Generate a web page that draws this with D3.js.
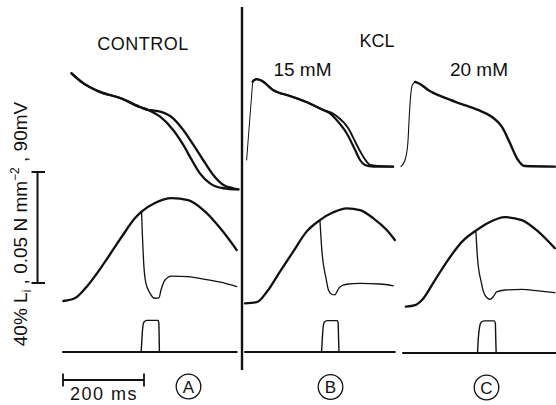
<!DOCTYPE html>
<html>
<head>
<meta charset="utf-8">
<script src="https://cdn.jsdelivr.net/npm/d3@7/dist/d3.min.js"></script>
<style>
  html, body { margin: 0; padding: 0; background: #fff; }
  svg { display: block; }
  text { font-family: "Liberation Sans", Arial, Helvetica, sans-serif; fill: #111; }
</style>
</head>
<body>
<svg id="chart" width="556" height="405"></svg>
<script>
// ---------------- DATA (time in ms, membrane potential in mV, force in mN/mm², length in % Li) ----------------
const panels = ["A", "B", "C"];
const panelTitles = ["CONTROL", "15 mM", "20 mM"];
const groupTitle = "KCL";
const calibrationLabel = ["40% L", "i", " , 0.05 N mm", "−2", " , 90mV"];
const timeBarLabel = "200 ms";

// Panel A – control
const apA_shared = [[21,8.0],[49,0.2],[91,-7.1],[141,-12],[190,-19.3],[210,-21.7]];
const apA_fast   = [[240,-27.2],[272,-38],[297,-50.1],[318,-62.3],[338,-73.1],[363,-81.2],[396,-85.2],[433,-86.1]];
const apA_slow   = [[222,-22.1],[240,-23.1],[272,-28.5],[297,-38],[322,-50.1],[346,-62.3],[371,-74.5],[396,-82.6],[420,-85.2],[433,-86.1]];
const forceA     = [[1,0.45],[30,1.8],[62,7.7],[104,18.2],[145,29.4],[178,37.8],[194,40.7],[227,44.6],[268,46.8],[309,45.9],[351,40.7],[392,32.4],[429,23.4]];
const releaseA   = [[194,40.7],[196,30.2],[199,18.2],[204,9.1],[215,3.9],[227,1.7],[237,1.9],[242,5.4],[252,9.9],[268,11.7],[309,11.4],[351,10.2],[392,8.8],[429,6.9]];
const baseA      = [[0,0],[429,0]];
const pulseA     = [[193,0],[195,5],[197,9],[200,10.8],[207,11.4],[235,11.4],[236.5,10.5],[237.5,5],[238,0]];

// Panel B – KCl 15 mM
const apB_up     = [[4,-62.3],[19,1.2]];
const apB_shared = [[19,1.2],[24,2.8],[29,3.2],[41,2.0],[69,-5.5],[111,-10.4],[152,-15.3],[193,-21.7]];
const apB_fast   = [[210,-24.4],[226,-29.8],[251,-40.6],[272,-54.2],[284,-62.3],[296,-66.3],[317,-67.7],[366,-67.7]];
const apB_slow   = [[210,-23.5],[226,-26.6],[255,-36.6],[276,-50.1],[292,-59.6],[309,-66.3],[333,-67.2],[366,-67.7]];
const forceB     = [[0,-0.6],[29,-0.1],[54,4.6],[86,13.6],[119,22.7],[152,31.7],[185,36.9],[218,40.4],[251,42.2],[284,41.4],[317,37.7],[350,32.4],[370,27.9]];
const releaseB   = [[185,36.9],[190,22.7],[200,10.7],[206,5.4],[214,3.5],[222,3.2],[228,5.0],[235,6.9],[251,8.0],[284,8.4],[333,8.1],[366,7.3]];
const baseB      = [[0,0],[370,0]];
const pulseB     = [[189,0],[191,5],[193,9],[196,10.8],[203,11.3],[228,11.3],[230,10.5],[231,5],[232,0]];

// Panel C – KCl 20 mM
const apC_up     = [[-5,-67.7],[5,-62.3],[12,-48.5],[15,-29.8],[19,-9.6],[23,-1.5],[30,1.0]];
const apC_main   = [[30,1.0],[42,-0.7],[62,-5.5],[104,-12],[145,-16.9],[185,-21.7],[219,-27.2],[244,-35.3],[264,-48.5],[281,-60.7],[301,-67.2],[375,-67.7]];
const forceC     = [[7,-2.1],[30,-1.4],[47,0.9],[79,9.9],[111,18.9],[146,27.2],[182,32.4],[211,35.7],[252,38.2],[293,36.9],[334,31.7],[375,24.2]];
const releaseC   = [[180,31.7],[184,19.7],[193,9.1],[202,3.2],[215,1.2],[223,2.4],[231,4.6],[252,5.4],[293,5.7],[334,5.0],[375,4.2]];
const baseC      = [[0,-0.4],[378,-0.4]];
const pulseC     = [[184,-0.4],[186,5],[189,9],[193,10.7],[200,11.2],[225,11.2],[228,10.4],[229,5],[230,-0.4]];

// ---------------- SCALES ----------------
const svg = d3.select("#chart");
const W = 556, H = 405;
svg.append("rect").attr("width", W).attr("height", H).attr("fill", "#fff");

const tScales = {
  A: d3.scaleLinear().domain([0, 200]).range([63, 144]),
  B: d3.scaleLinear().domain([0, 200]).range([245, 326]),
  C: d3.scaleLinear().domain([0, 200]).range([403, 484])
};
const vScale = d3.scaleLinear().domain([-85, 5]).range([188, 77]);   // 90 mV
const fScale = d3.scaleLinear().domain([0, 50]).range([302, 191]);   // 0.05 N/mm²
const lScale = d3.scaleLinear().domain([0, 40]).range([352, 241]);   // 40 % Li
const calScale = d3.scaleLinear().domain([0, 1]).range([283, 172]);  // calibration bar

const ink = "#111";

function trace(data, panel, yScale, width, curve) {
  const line = d3.line()
    .x(d => tScales[panel](d[0]))
    .y(d => yScale(d[1]))
    .curve(curve || d3.curveMonotoneX);
  svg.append("path")
    .attr("d", line(data))
    .attr("fill", "none")
    .attr("stroke", ink)
    .attr("stroke-width", width)
    .attr("stroke-linejoin", "round")
    .attr("stroke-linecap", "round");
}

// Panel A
trace(apA_shared.concat(apA_slow), "A", vScale, 2.3);
trace(apA_shared.concat(apA_fast), "A", vScale, 2.3);
trace(forceA, "A", fScale, 2.3);
trace(releaseA, "A", fScale, 1.3);
trace(baseA, "A", lScale, 2.0, d3.curveLinear);
trace(pulseA, "A", lScale, 1.4);

// Panel B
trace(apB_up, "B", vScale, 1.0, d3.curveLinear);
trace(apB_shared.concat(apB_slow), "B", vScale, 1.9);
trace(apB_shared.concat(apB_fast), "B", vScale, 2.2);
trace(forceB, "B", fScale, 2.3);
trace(releaseB, "B", fScale, 1.3);
trace(baseB, "B", lScale, 2.0, d3.curveLinear);
trace(pulseB, "B", lScale, 1.4);

// Panel C
trace(apC_up, "C", vScale, 1.1);
trace(apC_main, "C", vScale, 2.4);
trace(forceC, "C", fScale, 2.3);
trace(releaseC, "C", fScale, 1.3);
trace(baseC, "C", lScale, 2.0, d3.curveLinear);
trace(pulseC, "C", lScale, 1.4);

// Divider between control and KCl
svg.append("line")
  .attr("x1", 242).attr("x2", 242).attr("y1", 7).attr("y2", 370)
  .attr("stroke", ink).attr("stroke-width", 2.4);

// Titles
svg.append("text").attr("x", 143).attr("y", 50).attr("text-anchor", "middle")
  .attr("font-size", 18).attr("letter-spacing", 0.5).text(panelTitles[0]);
svg.append("text").attr("x", 377).attr("y", 47).attr("text-anchor", "middle")
  .attr("font-size", 18).text(groupTitle);
svg.append("text").attr("x", 302.5).attr("y", 76).attr("text-anchor", "middle")
  .attr("font-size", 19).text(panelTitles[1]);
svg.append("text").attr("x", 479).attr("y", 76).attr("text-anchor", "middle")
  .attr("font-size", 19).text(panelTitles[2]);

// Calibration bar (vertical)
const calX = 37.5;
svg.append("line").attr("x1", calX).attr("x2", calX)
  .attr("y1", calScale(0)).attr("y2", calScale(1))
  .attr("stroke", ink).attr("stroke-width", 2);
[0, 1].forEach(v => {
  svg.append("line").attr("x1", 31.5).attr("x2", 45)
    .attr("y1", calScale(v)).attr("y2", calScale(v))
    .attr("stroke", ink).attr("stroke-width", 2);
});

// Rotated calibration label
const calText = svg.append("text")
  .attr("transform", "translate(27,224) rotate(-90)")
  .attr("text-anchor", "middle")
  .attr("font-size", 19);
calText.append("tspan").text(calibrationLabel[0]);
calText.append("tspan").attr("font-size", 12).attr("dy", 4).text(calibrationLabel[1]);
calText.append("tspan").attr("dy", -4).text(calibrationLabel[2]);
calText.append("tspan").attr("font-size", 12).attr("dy", -8).text(calibrationLabel[3]);
calText.append("tspan").attr("dy", 8).text(calibrationLabel[4]);

// Time bar (200 ms)
const tb0 = tScales.A(0), tb1 = tScales.A(200);
svg.append("line").attr("x1", tb0).attr("x2", tb1).attr("y1", 380).attr("y2", 380)
  .attr("stroke", ink).attr("stroke-width", 2);
[tb0, tb1].forEach(x => {
  svg.append("line").attr("x1", x).attr("x2", x).attr("y1", 373.5).attr("y2", 386.5)
    .attr("stroke", ink).attr("stroke-width", 1.8);
});
svg.append("text").attr("x", 104).attr("y", 400).attr("text-anchor", "middle")
  .attr("font-size", 18).attr("letter-spacing", 1.5).text(timeBarLabel);

// Circled panel letters
const letterPos = { A: [188.5, 386.5], B: [330.5, 387], C: [486.5, 387.5] };
panels.forEach(p => {
  const [cx, cy] = letterPos[p];
  svg.append("circle").attr("cx", cx).attr("cy", cy).attr("r", 12.3)
    .attr("fill", "none").attr("stroke", ink).attr("stroke-width", 1.3);
  svg.append("text").attr("x", cx).attr("y", cy + 6).attr("text-anchor", "middle")
    .attr("font-size", 17).text(p);
});
</script>
</body>
</html>
